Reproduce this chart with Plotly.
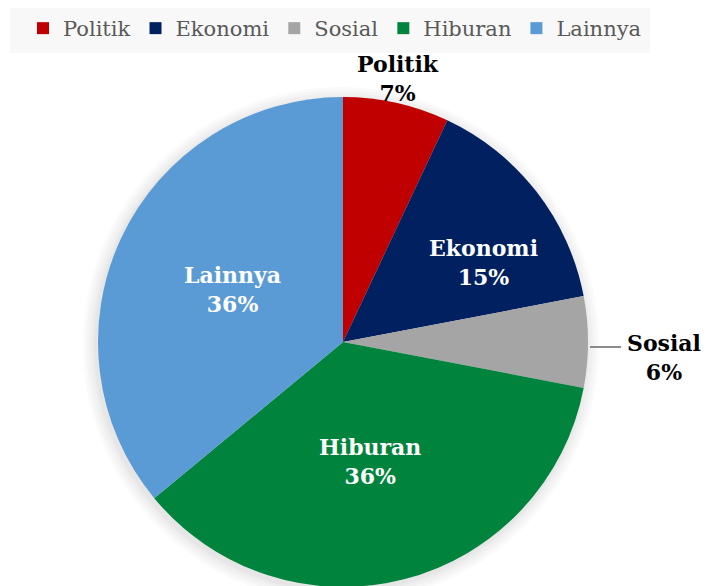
import math
import plotly.graph_objects as go

categories = ["Politik", "Ekonomi", "Sosial", "Hiburan", "Lainnya"]
values = [7, 15, 6, 36, 36]
colors = ["#C00000", "#002060", "#A5A5A5", "#00843D", "#5B9BD5"]

# label placement: (distance from centre in radii, angle shift from slice mid in degrees,
#                   extra vertical shift px, outside?)
label_place = {
    "Politik": (1.10, -0.8, 0, True),
    "Ekonomi": (0.66, 8.2, 0, False),
    "Sosial": (1.31, 0.0, 15, True),
    "Hiburan": (0.50, 1.7, 0, False),
    "Lainnya": (0.50, 0.0, 0, False),
}

W, H = 726, 586
OFF = 8  # page body margin
cx, cy, r = 343 - OFF, 342 - OFF, 245

FONT = "DejaVu Serif"

fig = go.Figure()
fig.add_trace(go.Pie(
    labels=categories,
    values=values,
    sort=False,
    direction="clockwise",
    rotation=0,
    marker=dict(colors=colors, line=dict(width=0)),
    textinfo="none",
    domain=dict(x=[(cx - r) / W, (cx + r) / W], y=[1 - (cy + r) / H, 1 - (cy - r) / H]),
    showlegend=True,
    hoverinfo="label+percent",
))

total = sum(values)
annotations = []
shapes = []
cum = 0
for cat, v in zip(categories, values):
    mid = (cum + v / 2) / total * 2 * math.pi
    cum += v
    dist, shift, dy, outside = label_place[cat]
    ang = mid + math.radians(shift)
    d = dist * r
    px = cx + d * math.sin(ang)
    py = cy - d * math.cos(ang) + dy
    annotations.append(dict(
        x=px / W, y=1 - py / H, xref="paper", yref="paper",
        text=f"<b>{cat}<br>{round(v / total * 100)}%</b>",
        showarrow=False, xanchor="center", yanchor="middle",
        font=dict(family=FONT, size=22, color="black" if outside else "white"),
    ))
    if cat == "Sosial":
        # leader line from pie edge to label
        x0 = cx + (r + 2) * math.sin(mid)
        y0 = cy - (r + 2) * math.cos(mid) + 5
        x1 = cx + (r + 33) * math.sin(mid)
        shapes.append(dict(
            type="line", xref="paper", yref="paper",
            x0=x0 / W, x1=x1 / W, y0=1 - y0 / H, y1=1 - y0 / H,
            line=dict(color="#8C8C8C", width=2),
        ))

# soft shadow behind the pie
for extra in [13, 10, 7, 4, 2]:
    rr = r + extra
    shapes.append(dict(
        type="circle", xref="paper", yref="paper", layer="below",
        x0=(cx - 2 - rr) / W, x1=(cx - 2 + rr) / W,
        y0=1 - (cy + 3 + rr) / H, y1=1 - (cy + 3 - rr) / H,
        fillcolor="rgba(0,0,0,0.018)", line=dict(width=0),
    ))

# legend background box
shapes.append(dict(
    type="rect", xref="paper", yref="paper", layer="below",
    x0=(10 - OFF) / W, x1=(650 - OFF) / W, y0=1 - (53 - OFF) / H, y1=1,
    fillcolor="#F8F8F8", line=dict(width=0),
))

fig.update_layout(
    width=W, height=H,
    margin=dict(l=0, r=0, t=0, b=0),
    paper_bgcolor="white",
    plot_bgcolor="white",
    font=dict(family=FONT, color="#595959"),
    shapes=shapes,
    annotations=annotations,
    legend=dict(
        orientation="h",
        x=15 / W, y=1, xanchor="left", yanchor="top",
        bgcolor="rgba(0,0,0,0)",
        font=dict(family=FONT, size=21, color="#595959"),
        itemwidth=30,
        tracegroupgap=0,
    ),
)

fig.write_html("out.html")
